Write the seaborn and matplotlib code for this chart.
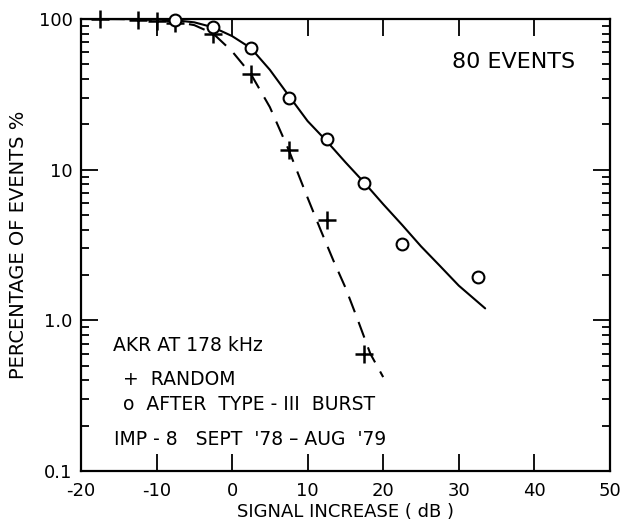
import numpy as np
import matplotlib
matplotlib.use("Agg")
import matplotlib.pyplot as plt
import seaborn as sns
from matplotlib.ticker import FixedLocator, LogLocator, NullFormatter

sns.set_style("ticks")
plt.rcParams['font.family'] = ['DejaVu Sans']
plt.rcParams['text.color'] = 'black'
plt.rcParams['axes.labelcolor'] = 'black'
plt.rcParams['xtick.color'] = 'black'
plt.rcParams['ytick.color'] = 'black'
plt.rcParams['axes.edgecolor'] = 'black'

# measured points
random_db = [-17.5, -12.5, -10.0, -7.5, -2.5, 2.5, 7.5, 12.5, 17.5]
random_pct = [100, 99, 97, 94, 80, 43, 13.4, 4.6, 0.6]
burst_db = [-7.5, -2.5, 2.5, 7.5, 12.5, 17.5, 22.5, 32.5]
burst_pct = [98, 88, 64, 30, 15.9, 8.2, 3.2, 1.95]

# hand-drawn fit curves
dash_db = [-20, -15, -12.5, -10, -7.5, -5, -2.5, 0, 2.5, 5, 7.5, 10, 11.7, 13.4, 15, 16.5, 18.3, 20]
dash_pct = [100, 99.8, 99.4, 98.5, 96, 91, 80, 61, 43, 26, 13.5, 6.5, 4.0, 2.5, 1.65, 1.05, 0.6, 0.42]
solid_db = [-20, -15, -10, -7.5, -5, -2.5, 0, 2.5, 5, 7.5, 10, 12.5, 15, 17.5, 20, 22.5, 25, 27.5, 30, 33.5]
solid_pct = [100, 99.9, 99.5, 98, 95, 88, 77, 64, 46, 31, 21, 15.5, 11.2, 8.2, 5.9, 4.3, 3.1, 2.3, 1.7, 1.2]

fig = plt.figure(figsize=(6.2, 5.27), dpi=100)
ax = fig.add_axes([0.1306, 0.1063, 0.853, 0.8577])

sns.lineplot(x=dash_db, y=dash_pct, ax=ax, color='black', lw=1.5,
             linestyle=(0, (8, 5)), sort=False)
sns.lineplot(x=solid_db, y=solid_pct, ax=ax, color='black', lw=1.5, sort=False)
ax.plot(random_db, random_pct, linestyle='none', marker='+', ms=13,
        mew=1.8, color='black', clip_on=False, zorder=5)
ax.plot(burst_db, burst_pct, linestyle='none', marker='o', ms=8.5,
        mew=1.5, mfc='white', mec='black', clip_on=False, zorder=5)

ax.set_yscale('log')
ax.set_xlim(-20, 50)
ax.set_ylim(0.1, 100)
ax.xaxis.set_major_locator(FixedLocator(range(-20, 51, 10)))
ax.set_xticklabels(['-20', '-10', '0', '10', '20', '30', '40', '50'])
ax.yaxis.set_major_locator(FixedLocator([0.1, 1, 10, 100]))
ax.yaxis.set_minor_locator(LogLocator(base=10, subs=np.arange(2, 10)))
ax.yaxis.set_minor_formatter(NullFormatter())
ax.set_yticklabels(['0.1', '1.0', '10', '100'])

ax.tick_params(which='both', direction='in', top=True, right=True,
               labelsize=13, width=1.3)
ax.tick_params(which='major', length=12)
ax.tick_params(which='minor', length=6)
ax.tick_params(axis='x', pad=8)
ax.tick_params(axis='y', pad=6)
for s in ax.spines.values():
    s.set_linewidth(1.6)

ax.set_xlabel('SIGNAL INCREASE ( dB )', fontsize=13, labelpad=2)
ax.set_ylabel('PERCENTAGE OF EVENTS %', fontsize=14, labelpad=8)

ax.text(0.935, 0.905, '80 EVENTS', transform=ax.transAxes, fontsize=16,
        ha='right', va='center')
ax.text(0.06, 0.277, 'AKR AT 178 kHz', transform=ax.transAxes, fontsize=13.5,
        ha='left', va='center')
ax.text(0.08, 0.203, '+  RANDOM', transform=ax.transAxes, fontsize=13.5,
        ha='left', va='center')
ax.text(0.08, 0.147, 'o  AFTER  TYPE - III  BURST', transform=ax.transAxes,
        fontsize=13.5, ha='left', va='center')
ax.text(0.063, 0.07, "IMP - 8   SEPT  '78 – AUG  '79", transform=ax.transAxes,
        fontsize=13.5, ha='left', va='center')

fig.savefig('out.png', dpi=100)
